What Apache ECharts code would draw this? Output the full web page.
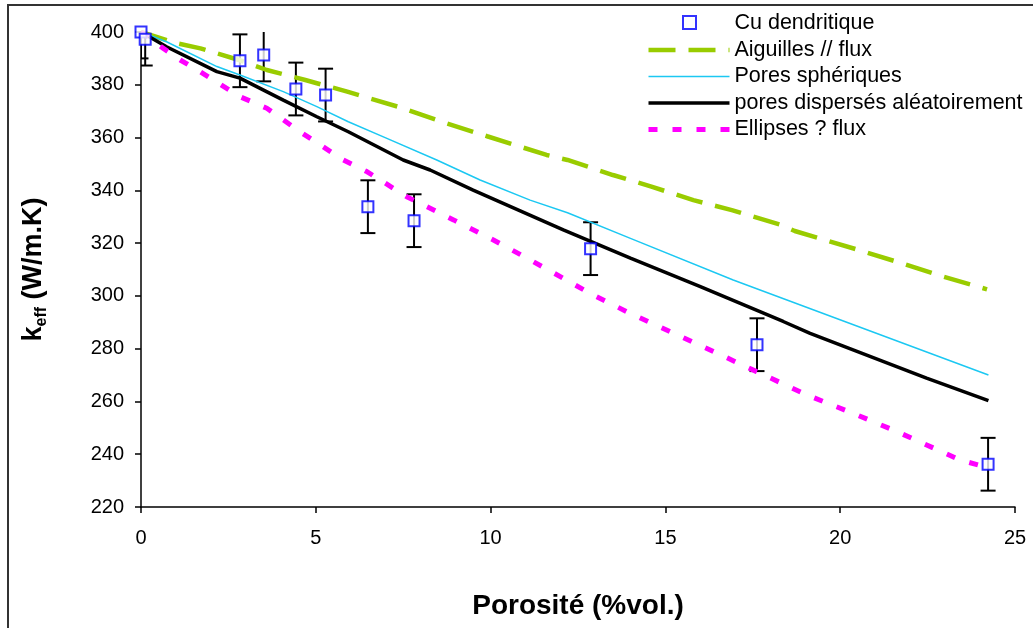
<!DOCTYPE html>
<html>
<head>
<meta charset="utf-8">
<script src="https://cdn.jsdelivr.net/npm/echarts@6/dist/echarts.min.js"></script>
<style>
html,body{margin:0;padding:0;background:#fff;}
#chart{width:1033px;height:628px;}
</style>
</head>
<body>
<div id="chart"></div>
<script>
// ---- data ----
const seriesNames = ['Cu dendritique', 'Aiguilles // flux', 'Pores sphériques', 'pores dispersés aléatoirement', 'Ellipses ? flux'];

const porosityCu = [0, 0.12, 2.83, 3.51, 4.43, 5.28, 6.49, 7.81, 12.86, 17.62, 24.23];
const keffCu     = [400, 397.3, 389.1, 391.3, 378.4, 376.1, 333.8, 328.5, 317.9, 281.5, 236.2];
const errCu      = [10, 10, 10, 10, 10, 10, 10, 10, 10, 10, 10];

const aiguilles = [[0,400],[1.0,395.8],[1.7,393.8],[2.8,389.4],[3.6,385.6],[4.7,381.8],[5.9,377.4],[7.4,371.5],[8.6,366.0],[9.9,360.5],[11.6,353.4],[12.2,351.5],[13.5,345.8],[14.6,341.4],[15.8,336.3],[16.9,332.5],[18.3,326.9],[18.7,324.6],[20.6,317.1],[21.7,312.6],[22.8,307.9],[24.2,302.5]];
const spheriques = [[0,400],[0.73,396.3],[2.17,386.9],[2.83,383.7],[4.07,377.4],[5.03,371.7],[5.93,366.0],[7.0,359.9],[8.46,351.5],[9.7,343.9],[11.13,336.3],[12.2,331.5],[14.0,321.8],[16.94,306.0],[24.24,270.0]];
const aleatoires = [[0,400],[0.73,394.4],[2.17,385.0],[2.83,382.5],[4.07,374.2],[5.03,367.9],[5.93,362.2],[7.5,351.5],[8.27,347.7],[9.5,340.1],[12.08,325.0],[14.0,314.3],[16.0,303.5],[18.37,290.3],[19.14,285.8],[22.47,268.8],[24.24,260.3]];
const ellipses = [[0,400],[0.64,393.8],[1.12,389.4],[1.69,385.0],[2.83,375.5],[3.6,371.1],[4.55,362.2],[5.79,351.5],[6.46,347.1],[7.6,337.6],[8.94,328.8],[10.08,321.2],[11.22,313.0],[12.84,301.0],[13.99,293.4],[16.28,279.5],[17.61,271.3],[19.04,262.5],[20.37,255.5],[21.62,248.6],[23.43,237.8],[24.2,235.0]];

const xTicks = {min: 0, max: 25, interval: 5};
const yTicks = {min: 220, max: 400, interval: 20};

// ---- build ----
const FONT = '"Liberation Sans", Arial, sans-serif';
const cuData = porosityCu.map((x, i) => [x, keffCu[i]]);
const errData = porosityCu.map((x, i) => [x, keffCu[i], errCu[i]]);
const lineWidths = [0, 4.5, 1.5, 3.5, 5];

const chart = echarts.init(document.getElementById('chart'), null, {renderer: 'canvas'});

const legendText = {fontSize: 21.5, color: '#000', fontFamily: FONT, lineHeight: 21};

const option = {
  backgroundColor: '#fff',
  animation: false,
  textStyle: {fontFamily: FONT},
  graphic: [{
    type: 'rect', silent: true, z: -10,
    shape: {x: 8, y: 5, width: 1100, height: 700},
    style: {fill: 'none', stroke: '#333', lineWidth: 2}
  }],
  grid: {left: 141, right: 18, top: 32, bottom: 121, containLabel: false, outerBoundsMode: 'none'},
  legend: [
    {
      orient: 'vertical', left: 646, top: 12.5, padding: 0,
      itemWidth: 81, itemHeight: 14, itemGap: 4.5,
      textStyle: legendText,
      data: seriesNames.map((n, i) => i === 0
        ? {name: n, itemStyle: {opacity: 0}}
        : {name: n, itemStyle: {opacity: 0}, lineStyle: {width: lineWidths[i]}})
    },
    {
      orient: 'vertical', left: 682, top: 15, padding: 0,
      itemWidth: 13, itemHeight: 13, itemGap: 0,
      icon: 'rect',
      itemStyle: {color: '#fff', borderColor: '#0000FF', borderWidth: 2},
      formatter: function () { return ''; },
      textStyle: {fontSize: 1},
      data: [seriesNames[0]]
    }
  ],
  xAxis: {
    type: 'value', min: xTicks.min, max: xTicks.max, interval: xTicks.interval,
    name: 'Porosité (%vol.)', nameLocation: 'middle', nameGap: 85,
    nameTextStyle: {fontSize: 28, fontWeight: 'bold', color: '#000', fontFamily: FONT},
    axisLine: {lineStyle: {color: '#000', width: 1.5}},
    axisTick: {inside: false, length: 6, lineStyle: {color: '#000', width: 1.5}},
    axisLabel: {fontSize: 20, color: '#000', margin: 21, fontFamily: FONT},
    splitLine: {show: false}
  },
  yAxis: {
    type: 'value', min: yTicks.min, max: yTicks.max, interval: yTicks.interval,
    name: '{a|k}{b|eff}{a| (W/m.K)}', nameLocation: 'middle', nameGap: 91, nameRotate: 90,
    nameTextStyle: {
      color: '#000', fontFamily: FONT,
      rich: {
        a: {fontSize: 27, fontWeight: 'bold', lineHeight: 32, color: '#000', fontFamily: FONT},
        b: {fontSize: 16, fontWeight: 'bold', lineHeight: 16, verticalAlign: 'bottom', color: '#000', fontFamily: FONT}
      }
    },
    axisLine: {show: true, lineStyle: {color: '#000', width: 1.5}},
    axisTick: {show: true, inside: false, length: 6, lineStyle: {color: '#000', width: 1.5}},
    axisLabel: {fontSize: 20, color: '#000', margin: 17, fontFamily: FONT},
    splitLine: {show: false}
  },
  series: [
    {
      name: seriesNames[0], type: 'scatter', data: cuData, z: 5,
      symbol: 'rect', symbolSize: 11,
      itemStyle: {color: '#fff', borderColor: '#0000FF', borderWidth: 2}
    },
    {
      name: seriesNames[1], type: 'line', data: aiguilles, symbol: 'none', showSymbol: false, z: 3,
      lineStyle: {color: '#99CC00', width: lineWidths[1], type: [27, 13]},
      itemStyle: {color: '#99CC00'}
    },
    {
      name: seriesNames[2], type: 'line', data: spheriques, symbol: 'none', showSymbol: false, z: 3,
      lineStyle: {color: '#1CC8F2', width: lineWidths[2], type: 'solid'},
      itemStyle: {color: '#1CC8F2'}
    },
    {
      name: seriesNames[3], type: 'line', data: aleatoires, symbol: 'none', showSymbol: false, z: 3,
      lineStyle: {color: '#000', width: lineWidths[3], type: 'solid'},
      itemStyle: {color: '#000'}
    },
    {
      name: seriesNames[4], type: 'line', data: ellipses, symbol: 'none', showSymbol: false, z: 3,
      lineStyle: {color: '#FF00FF', width: lineWidths[4], type: [9, 15]},
      itemStyle: {color: '#FF00FF'}
    },
    {
      name: 'err', type: 'custom', data: errData, z: 2, clip: true,
      renderItem: function (params, api) {
        const x = api.value(0), y = api.value(1), e = api.value(2);
        const top = api.coord([x, y + e]);
        const bot = api.coord([x, y - e]);
        const hw = 7.5;
        const st = {stroke: '#000', lineWidth: 2};
        return {
          type: 'group',
          children: [
            {type: 'line', shape: {x1: top[0], y1: top[1], x2: bot[0], y2: bot[1]}, style: st},
            {type: 'line', shape: {x1: top[0] - hw, y1: top[1], x2: top[0] + hw, y2: top[1]}, style: st},
            {type: 'line', shape: {x1: bot[0] - hw, y1: bot[1], x2: bot[0] + hw, y2: bot[1]}, style: st}
          ]
        };
      }
    }
  ]
};
chart.setOption(option);
</script>
</body>
</html>
